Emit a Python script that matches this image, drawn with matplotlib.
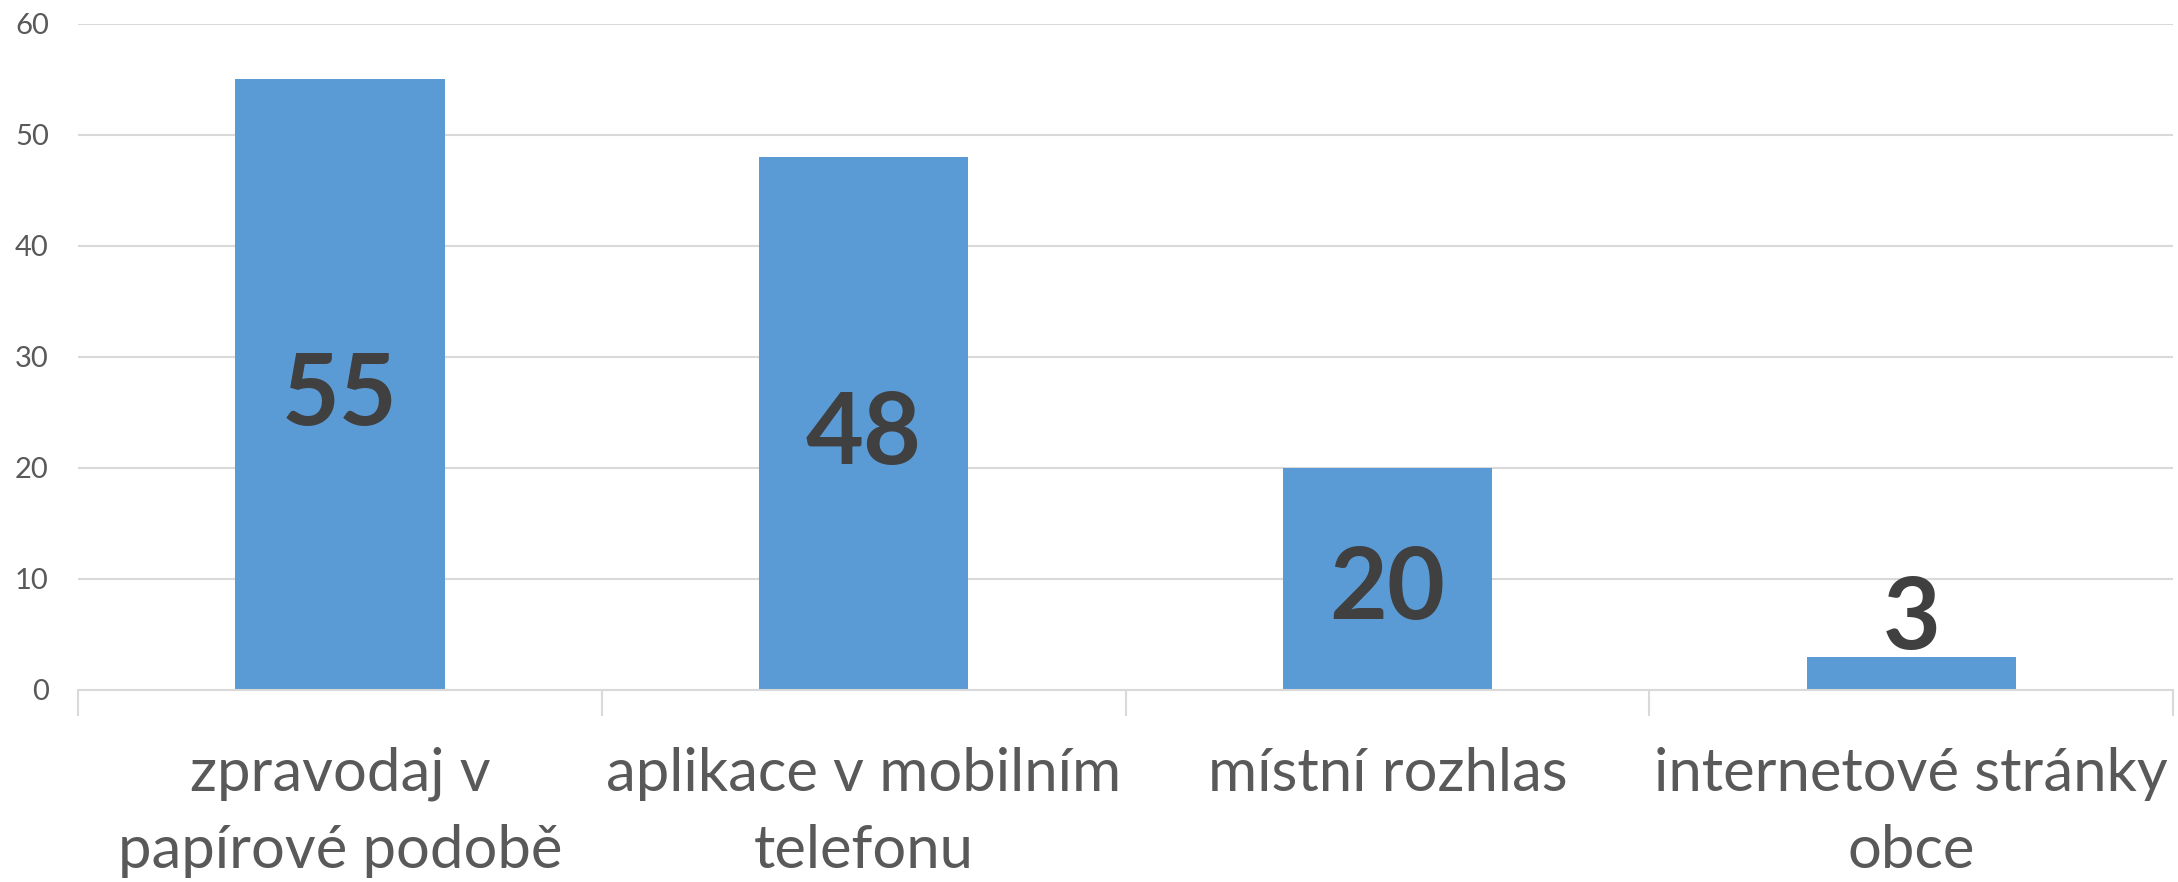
import matplotlib
matplotlib.use("Agg")
import matplotlib.pyplot as plt

categories = [
    "zpravodaj v\npapírové podobě",
    "aplikace v mobilním\ntelefonu",
    "místní rozhlas",
    "internetové stránky\nobce",
]
values = [55, 48, 20, 3]
y_ticks = [0, 10, 20, 30, 40, 50, 60]

bar_color = "#5B9BD5"
grid_color = "#D9D9D9"
text_color = "#595959"
label_color = "#404040"

plt.rcParams["font.family"] = ["Lato", "DejaVu Sans"]

fig = plt.figure(figsize=(21.78, 8.82), dpi=100)
ax = fig.add_axes([0.0358, 0.2177, 0.962, 0.7551])

x = range(len(categories))
bars = ax.bar(x, values, width=0.4, color=bar_color, zorder=2)

ax.set_xlim(-0.5, len(categories) - 0.5)
ax.set_ylim(0, 60)
ax.set_yticks(y_ticks)
ax.yaxis.grid(True, color=grid_color, lw=1.5, zorder=0)
ax.tick_params(axis="y", length=0, pad=21, labelsize=21, labelcolor=text_color)

ax.set_xticks(list(x))
ax.set_xticklabels(categories, fontsize=43, color=text_color, linespacing=1.52)
ax.set_xticks([i + 0.5 for i in range(-1, len(categories))], minor=True)
ax.tick_params(axis="x", which="major", length=0, pad=41)
ax.tick_params(axis="x", which="minor", length=19, width=1.5, color=grid_color)

for s in ["top", "right", "left"]:
    ax.spines[s].set_visible(False)
ax.spines["bottom"].set_color(grid_color)
ax.spines["bottom"].set_linewidth(1.5)

# labels: centred in the bar, or just above it when the bar is too short
for b, v in zip(bars, values):
    cx = b.get_x() + b.get_width() / 2
    if v >= 10:
        ax.annotate(str(v), (cx, v / 2), xytext=(0, -29), textcoords="offset points",
                    ha="center", va="baseline", fontsize=72,
                    fontweight="bold", color=label_color, zorder=3)
    else:
        ax.annotate(str(v), (cx, v), xytext=(0, 5.5), textcoords="offset points",
                    ha="center", va="baseline", fontsize=72,
                    fontweight="bold", color=label_color, zorder=3)

fig.savefig("out.png", dpi=100)
